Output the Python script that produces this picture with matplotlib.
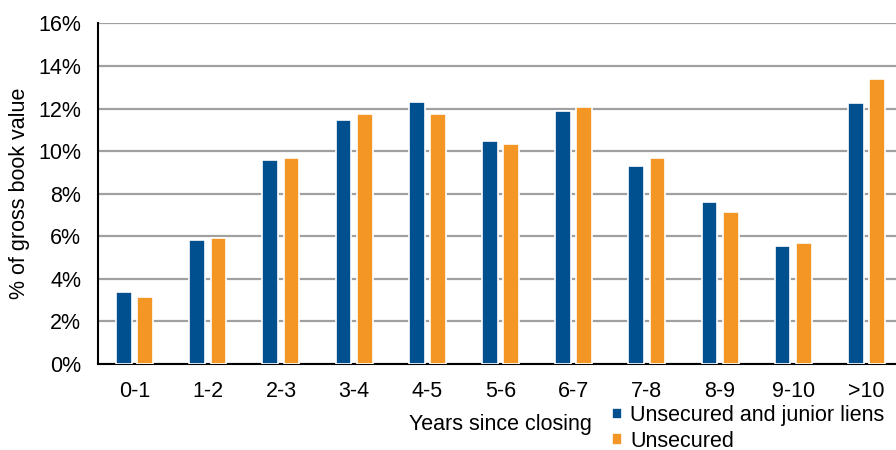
import numpy as np
import matplotlib.pyplot as plt

# values (% of gross book value)
categories = ['0-1', '1-2', '2-3', '3-4', '4-5', '5-6', '6-7', '7-8', '8-9', '9-10', '>10']
junior_liens = [3.4, 5.85, 9.58, 11.45, 12.3, 10.5, 11.9, 9.3, 7.6, 5.55, 12.28]
unsecured = [3.13, 5.93, 9.66, 11.74, 11.76, 10.33, 12.07, 9.67, 7.14, 5.67, 13.39]
yticks = [0, 2, 4, 6, 8, 10, 12, 14, 16]

plt.rcParams['font.family'] = ['Liberation Sans', 'DejaVu Sans']

fig = plt.figure(figsize=(8.96, 4.5), dpi=100)
ax = fig.add_axes([0.1094, 0.1911, 0.8984, 0.7567])

x = np.arange(len(categories))
w = 0.215
ax.bar(x - 0.145, junior_liens, w, color='#004F8E', edgecolor='white', linewidth=1.2,
       label='Unsecured and junior liens', zorder=3)
ax.bar(x + 0.145, unsecured, w, color='#F39626', edgecolor='white', linewidth=1.2,
       label='Unsecured', zorder=3)

ax.set_xlim(-0.5, len(categories) - 0.5)
ax.set_ylim(0, 16)
ax.set_yticks(yticks)
ax.set_yticklabels([f'{v}%' for v in yticks])
ax.set_xticks(x)
ax.set_xticklabels(categories)
ax.tick_params(length=0, labelsize=15.5)
ax.tick_params(axis='y', pad=12)
ax.tick_params(axis='x', pad=12)
ax.yaxis.grid(True, color='#A0A0A0', linewidth=1.6, zorder=0)
ax.set_axisbelow(True)
for s in ['top', 'right']:
    ax.spines[s].set_visible(False)
for s in ['left', 'bottom']:
    ax.spines[s].set_linewidth(1.5)
    ax.spines[s].set_color('black')
ax.set_ylabel('% of gross book value', fontsize=15.5, labelpad=6)

fig.text(0.559, 0.057, 'Years since closing', fontsize=15.5, ha='center', va='center')
fig.legend(loc='upper left', bbox_to_anchor=(0.683, 0.1), frameon=False,
           fontsize=15.5, handlelength=0.45, handleheight=0.45, handletextpad=0.4,
           labelspacing=0.22, borderaxespad=0, borderpad=0)

fig.savefig('out.png', dpi=100)
